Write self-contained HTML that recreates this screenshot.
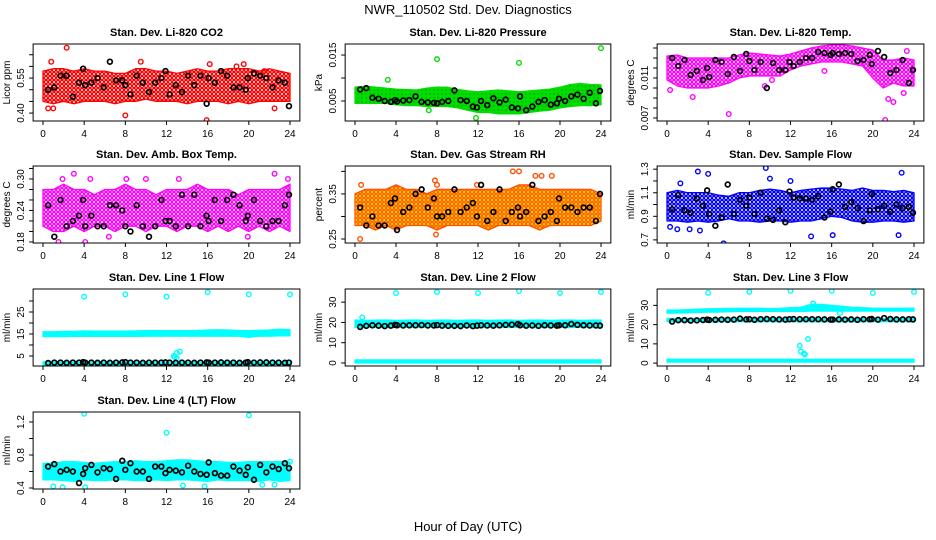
<!DOCTYPE html>
<html><head><meta charset="utf-8"><title>NWR_110502 Std. Dev. Diagnostics</title>
<style>
html,body{margin:0;padding:0;background:#fff;}
svg{display:block;font-family:"Liberation Sans",Arial,sans-serif;}
</style></head>
<body>
<svg id="chart" width="936" height="540" viewBox="0 0 936 540">
<defs>
<pattern id="pat-red" width="4" height="4" patternUnits="userSpaceOnUse"><circle cx="2" cy="2" r="1.6" fill="none" stroke="#ff0000" stroke-width="1.3"/></pattern>
<pattern id="pat-green" width="4" height="4" patternUnits="userSpaceOnUse"><rect width="4" height="4" fill="#00dd00"/><circle cx="2" cy="2" r="0.7" fill="#009900"/></pattern>
<pattern id="pat-magenta" width="4" height="4" patternUnits="userSpaceOnUse"><circle cx="2" cy="2" r="1.6" fill="none" stroke="#ff00ff" stroke-width="1.3"/></pattern>
<pattern id="pat-blue" width="4" height="4" patternUnits="userSpaceOnUse"><circle cx="2" cy="2" r="1.6" fill="none" stroke="#0000ff" stroke-width="1.3"/></pattern>
<pattern id="pat-cyan" width="4" height="4" patternUnits="userSpaceOnUse"><rect width="4" height="4" fill="#00ffff"/></pattern>
<pattern id="pat-orange" width="4" height="4" patternUnits="userSpaceOnUse"><rect width="4" height="4" fill="#ffe000"/><circle cx="2" cy="2" r="1.3" fill="none" stroke="#ff2000" stroke-width="0.9"/></pattern>
</defs>
<text x="468" y="14" text-anchor="middle" font-size="13">NWR_110502 Std. Dev. Diagnostics</text>
<text x="468" y="531" text-anchor="middle" font-size="13">Hour of Day (UTC)</text>
</svg>
<script>
const blackHours = [0.5,1.1,1.7,2.3,2.9,3.5,3.9,4.1,4.7,5.3,5.9,6.5,7.1,7.7,8.0,8.5,9.1,9.7,10.3,10.9,11.5,11.9,12.3,12.9,13.5,14.1,14.7,15.3,15.9,16.1,16.7,17.3,17.9,18.5,19.1,19.7,19.9,20.5,21.1,21.7,22.3,22.9,23.5,23.9];
const bandHours = [0,1,2,3,4,5,6,7,8,9,10,11,12,13,14,15,16,17,18,19,20,21,22,23,24];
const xTicks = [0,4,8,12,16,20,24];

const co2Lo = [0.45,0.44,0.45,0.44,0.45,0.45,0.45,0.44,0.45,0.45,0.46,0.45,0.45,0.45,0.44,0.45,0.45,0.45,0.44,0.45,0.44,0.45,0.45,0.45,0.45];
const co2Hi = [0.58,0.59,0.59,0.58,0.59,0.58,0.58,0.57,0.57,0.59,0.59,0.58,0.58,0.57,0.58,0.59,0.58,0.58,0.59,0.59,0.59,0.58,0.59,0.58,0.57];
const co2OutX = [0.8,2.3,9.5,15.9,8.0,18.8,21.5,22.5,16.2,19.5,0.5,1.0];
const co2OutY = [0.62,0.68,0.62,0.37,0.39,0.60,0.58,0.42,0.61,0.61,0.42,0.42];
const co2Black = [0.50,0.51,0.56,0.56,0.47,0.53,0.59,0.52,0.53,0.55,0.51,0.62,0.54,0.54,0.52,0.48,0.56,0.53,0.49,0.53,0.55,0.58,0.48,0.52,0.49,0.56,0.52,0.56,0.44,0.55,0.53,0.58,0.56,0.51,0.51,0.50,0.55,0.57,0.56,0.55,0.51,0.54,0.53,0.43];
const co2Ticks = [0.40,0.45,0.50,0.55,0.60,0.65];
const co2Labels = ["0.40","","","0.55","",""];

const presLo = [0.0045,0.0045,0.0045,0.0045,0.0042,0.0040,0.0040,0.0038,0.0038,0.0038,0.0035,0.0030,0.0025,0.0025,0.0022,0.0022,0.0022,0.0025,0.0028,0.0030,0.0035,0.0038,0.0040,0.0040,0.0042];
const presHi = [0.0080,0.0082,0.0080,0.0078,0.0076,0.0075,0.0074,0.0078,0.0080,0.0080,0.0075,0.0072,0.0070,0.0072,0.0074,0.0072,0.0070,0.0072,0.0074,0.0076,0.0080,0.0086,0.0088,0.0086,0.0085];
const presOutX = [8,16,24,3.2,7.2,11.8];
const presOutY = [0.0141,0.0133,0.0165,0.0096,0.0030,0.0013];
const presBlack = [0.0075,0.0078,0.0057,0.0055,0.0050,0.0048,0.0052,0.0049,0.0051,0.0052,0.0060,0.0048,0.0047,0.0046,0.0045,0.0048,0.0050,0.0073,0.0052,0.0050,0.0038,0.0036,0.0050,0.0041,0.0056,0.0047,0.0053,0.0036,0.0034,0.0060,0.0030,0.0038,0.0048,0.0052,0.0042,0.0045,0.0055,0.0050,0.0060,0.0064,0.0055,0.0068,0.0045,0.0072];
const presTicks = [0.005,0.010,0.015];
const presLabels = ["0.005","","0.015"];

const tempLo = [0.0108,0.0102,0.0100,0.0100,0.0100,0.0102,0.0105,0.0110,0.0112,0.0112,0.0112,0.0112,0.0118,0.0122,0.0124,0.0126,0.0126,0.0126,0.0124,0.0122,0.0110,0.0100,0.0105,0.0102,0.0102];
const tempHi = [0.0132,0.0133,0.0130,0.0130,0.0130,0.0130,0.0130,0.0133,0.0135,0.0134,0.0133,0.0132,0.0134,0.0137,0.0140,0.0142,0.0143,0.0143,0.0142,0.0140,0.0138,0.0128,0.0128,0.0130,0.0128];
const tempOutX = [0.3,2.5,6.0,9.5,21.2,21.0,21.5,22.0,23.0,23.3,15.3,10.2];
const tempOutY = [0.0098,0.0091,0.0074,0.0102,0.0068,0.0063,0.0089,0.0086,0.0095,0.0137,0.0117,0.0108];
const tempBlack = [0.0130,0.0122,0.0128,0.0113,0.0117,0.0108,0.0120,0.0111,0.0128,0.0126,0.0114,0.0131,0.0117,0.0134,0.0127,0.0118,0.0126,0.0100,0.0125,0.0118,0.0118,0.0126,0.0122,0.0126,0.0130,0.0130,0.0136,0.0135,0.0133,0.0135,0.0134,0.0135,0.0134,0.0127,0.0128,0.0133,0.0124,0.0137,0.0131,0.0115,0.0118,0.0128,0.0105,0.0118];
const tempTicks = [0.007,0.008,0.009,0.010,0.011,0.012,0.013,0.014];
const tempLabels = ["0.007","","","","0.011","","",""];

const ambLo = [0.21,0.20,0.20,0.21,0.20,0.21,0.21,0.20,0.21,0.21,0.20,0.21,0.21,0.20,0.21,0.21,0.20,0.21,0.20,0.21,0.20,0.21,0.20,0.21,0.20];
const ambHi = [0.28,0.28,0.29,0.28,0.28,0.27,0.28,0.28,0.29,0.28,0.28,0.27,0.28,0.28,0.28,0.29,0.28,0.28,0.28,0.27,0.28,0.28,0.28,0.28,0.29];
const ambOutX = [1.9,3.0,4.6,8.1,6.4,1.5,4.1,19.9,21.3,22.5,23.8,13.2,10.0];
const ambOutY = [0.30,0.31,0.30,0.30,0.19,0.18,0.18,0.19,0.17,0.31,0.30,0.30,0.30];
const ambBlack = [0.25,0.19,0.26,0.21,0.22,0.23,0.26,0.21,0.23,0.21,0.21,0.25,0.25,0.24,0.21,0.20,0.25,0.21,0.19,0.21,0.26,0.22,0.22,0.21,0.27,0.21,0.27,0.21,0.23,0.22,0.26,0.22,0.26,0.27,0.25,0.22,0.23,0.26,0.22,0.21,0.22,0.22,0.25,0.27];
const ambTicks = [0.18,0.20,0.22,0.24,0.26,0.28,0.30,0.32];
const ambLabels = ["0.18","","","0.24","","","0.30",""];

const rhLo = [0.28,0.28,0.27,0.28,0.27,0.28,0.28,0.28,0.27,0.28,0.28,0.28,0.28,0.27,0.28,0.28,0.28,0.28,0.27,0.28,0.28,0.28,0.28,0.28,0.29];
const rhHi = [0.35,0.36,0.36,0.36,0.37,0.36,0.36,0.35,0.36,0.36,0.36,0.36,0.36,0.36,0.36,0.36,0.37,0.37,0.36,0.36,0.36,0.36,0.36,0.36,0.35];
const rhOutX = [0.5,8.0,7.8,11.9,17.6,18.2,19.2,15.4,16.0,0.6,7.9];
const rhOutY = [0.25,0.37,0.38,0.37,0.39,0.39,0.39,0.40,0.40,0.37,0.26];
const rhBlack = [0.32,0.28,0.30,0.28,0.28,0.33,0.34,0.27,0.31,0.32,0.35,0.36,0.32,0.34,0.30,0.30,0.31,0.36,0.31,0.32,0.33,0.30,0.37,0.29,0.31,0.36,0.29,0.31,0.32,0.30,0.31,0.37,0.29,0.30,0.31,0.29,0.34,0.32,0.32,0.31,0.32,0.32,0.29,0.35];
const rhTicks = [0.25,0.30,0.35,0.40];
const rhLabels = ["0.25","","0.35",""];

const sfLo = [0.86,0.86,0.85,0.86,0.85,0.86,0.88,0.86,0.86,0.85,0.86,0.86,0.85,0.86,0.86,0.88,0.90,0.89,0.86,0.85,0.85,0.86,0.86,0.85,0.86];
const sfHi = [1.10,1.12,1.10,1.10,1.10,1.08,1.07,1.10,1.10,1.12,1.13,1.12,1.10,1.12,1.13,1.14,1.14,1.13,1.12,1.14,1.12,1.12,1.11,1.12,1.10];
const sfOutX = [0.3,1.3,3.0,3.2,4.0,5.5,9.6,12.0,14.0,16.1,22.8,22.5,10.0,1.0,2.2];
const sfOutY = [0.81,1.18,1.28,0.78,1.26,0.67,1.31,1.20,0.73,0.74,1.27,0.74,1.22,0.79,0.79];
const sfBlack = [0.96,1.08,0.95,0.93,1.05,0.99,1.12,0.92,0.82,0.89,1.17,0.92,1.04,0.99,1.06,0.92,1.10,0.88,0.87,0.95,0.85,1.11,1.06,1.05,1.05,1.04,1.07,0.89,0.94,1.13,1.17,0.98,1.02,0.97,0.86,0.95,1.09,0.96,0.99,0.94,1.00,0.97,0.98,0.93];
const sfTicks = [0.7,0.8,0.9,1.0,1.1,1.2,1.3];
const sfLabels = ["0.7","","0.9","","1.1","","1.3"];

const l1UpLo = [13.8,13.8,13.8,13.9,13.9,13.9,13.9,13.9,13.9,13.9,14,14,14,14,14,14,14,14,14,14,13.5,14,14,14.2,14.2];
const l1UpHi = [16,16,16.2,16.2,16.4,16.3,16.3,16.3,16.3,16.4,16.5,16.5,16.5,16.5,16.5,16.6,16.8,16.9,16.8,16.6,16.5,16.7,16.8,17.2,17.0];
const l1LowLo = [1.0,1.0,1.0,1.0,1.0,1.0,1.0,1.0,1.0,1.0,1.0,1.0,1.0,1.0,1.0,1.0,1.0,1.0,1.0,1.0,1.0,1.0,1.0,1.0,1.0];
const l1LowHi = [2.3,2.3,2.3,2.3,2.3,2.3,2.3,2.3,2.3,2.3,2.3,2.3,2.3,2.3,2.3,2.3,2.3,2.3,2.3,2.3,2.3,2.3,2.3,2.3,2.3];
const l1OutX = [4,8,12,16,20,24,12.7,13.0,13.3,13.0,12.8];
const l1OutY = [32,33,32,34,33,33,5,6.5,7,4,4.5];
const l1Black = [1.8,2.0,2.0,1.9,2.0,2.0,2.2,2.0,2.0,1.9,2.0,1.9,2.0,2.1,2.2,2.0,2.0,1.9,2.0,2.0,2.0,2.1,2.0,1.9,2.0,2.0,1.9,2.0,2.1,2.0,2.0,2.1,2.0,2.0,1.9,2.0,2.2,2.0,2.1,2.1,2.0,2.0,1.9,2.0];
const l1Ticks = [5,10,15,20,25,30];
const l1Labels = ["5","","15","","25",""];

const l2UpLo = [17.5,17.6,17.6,17.5,17.6,17.6,17.5,17.6,17.6,17.5,17.6,17.6,17.5,17.6,17.6,17.5,17.6,17.6,17.5,17.6,17.6,17.5,17.6,17.6,17.5];
const l2UpHi = [21.2,21.0,21.1,21.2,21.0,21.1,21.2,21.0,21.1,21.2,21.0,21.1,21.2,21.0,21.1,21.2,21.0,21.1,21.2,21.0,21.1,21.2,21.0,21.1,21.2];
const l2LowLo = [0,0,0,0,0,0,0,0,0,0,0,0,0,0,0,0,0,0,0,0,0,0,0,0,0];
const l2LowHi = [1.5,1.5,1.5,1.5,1.5,1.5,1.5,1.5,1.5,1.5,1.5,1.5,1.5,1.5,1.5,1.5,1.5,1.5,1.5,1.5,1.5,1.5,1.5,1.5,1.5];
const l2OutX = [4,8,12,16,20,24,0.7];
const l2OutY = [34.5,35,34.5,35.5,34.5,35,22.5];
const l2Black = [17.8,18.3,18.6,18.4,18.2,18.4,18.8,18.6,18.5,18.6,18.6,18.7,18.5,18.5,18.7,18.4,18.3,18.3,18.2,18.5,18.2,18.4,18.6,18.5,18.4,18.6,18.8,18.9,19.2,18.6,18.4,18.5,18.3,18.6,18.5,18.4,18.6,18.6,19.2,18.8,18.6,18.5,18.5,18.4];
const l2Ticks = [0,10,20,30];
const l2Labels = ["0","10","20","30"];

const l3UpLo = [26,26,26.2,26.3,26.5,26.5,26.7,26.8,26.8,26.9,26.9,26.8,26.8,26.8,27.0,27,27,27,27,27,27,27,27,27,27];
const l3UpHi = [27.5,27.6,27.8,28,28.2,28.3,28.4,28.5,28.5,28.5,28.3,28.5,28.8,29,30.5,30.5,30,29.5,29,28.8,28.6,28.5,28.5,28.5,28.6];
const l3MidLo = [21.5,21.5,21.5,21.5,21.5,21.5,21.5,21.5,21.5,21.5,21.5,21.5,21.5,21.5,21.5,21.5,21.5,21.5,21.5,21.5,21.5,21.5,21.5,21.5,21.5];
const l3MidHi = [23.2,23.2,23.2,23.2,23.2,23.2,23.2,23.2,23.2,23.2,23.2,23.2,23.2,23.2,23.2,23.2,23.2,23.2,23.2,23.2,23.2,23.2,23.2,23.2,23.2];
const l3LowLo = [0.5,0.5,0.5,0.5,0.5,0.5,0.5,0.5,0.5,0.5,0.5,0.5,0.5,0.5,0.5,0.5,0.5,0.5,0.5,0.5,0.5,0.5,0.5,0.5,0.5];
const l3LowHi = [2,2,2,2,2,2,2,2,2,2,2,2,2,2,2,2,2,2,2,2,2,2,2,2,2];
const l3OutX = [4,8,12,16,20,24,12.9,13.0,13.3,13.4,13.7,14.2,16.8];
const l3OutY = [36.5,37,37.5,37.5,36.5,37,9,6,5,4.5,12.5,31,26];
const l3Black = [21.6,22.3,22.3,22.1,22.2,22.4,22.6,22.4,22.5,22.6,22.5,22.6,23.1,22.7,22.8,22.5,22.8,22.9,22.8,22.7,22.6,22.8,22.9,22.8,22.8,22.8,22.8,22.7,22.6,22.6,22.7,22.6,22.7,22.5,22.8,22.8,22.9,22.6,23.4,22.9,22.7,22.7,22.8,22.7];

const l4Lo = [0.50,0.50,0.49,0.48,0.50,0.49,0.49,0.50,0.50,0.49,0.49,0.50,0.49,0.50,0.50,0.49,0.48,0.50,0.49,0.49,0.49,0.48,0.50,0.48,0.49];
const l4Hi = [0.70,0.70,0.72,0.72,0.71,0.70,0.71,0.72,0.72,0.73,0.72,0.72,0.73,0.74,0.74,0.73,0.72,0.72,0.71,0.71,0.72,0.72,0.72,0.72,0.71];
const l4OutX = [4,12,20,1.0,1.9,4.1,13.6,15.7,21.3,24,22.5];
const l4OutY = [1.3,1.07,1.28,0.42,0.41,0.41,0.43,0.42,0.44,0.72,0.44];
const l4Black = [0.66,0.69,0.60,0.62,0.60,0.46,0.57,0.64,0.68,0.59,0.64,0.63,0.51,0.73,0.62,0.70,0.60,0.60,0.51,0.66,0.66,0.58,0.62,0.61,0.59,0.67,0.60,0.57,0.56,0.71,0.58,0.55,0.55,0.66,0.61,0.56,0.65,0.50,0.68,0.59,0.66,0.63,0.70,0.64];
const l4Ticks = [0.4,0.6,0.8,1.0,1.2];
const l4Labels = ["0.4","","0.8","","1.2"];

const NS = "http://www.w3.org/2000/svg";
const svg = document.getElementById("chart");
const COLS = [{a:43,b:290},{a:355,b:601},{a:667,b:914}];
const ROWS = [44,166,289,412];
const BH = 77;

function mk(tag, attrs, parent){
  const e = document.createElementNS(NS, tag);
  for (const k in attrs) e.setAttribute(k, attrs[k]);
  (parent||svg).appendChild(e);
  return e;
}

const panels = [
 {key:"co2",title:"Stan. Dev. Li-820 CO2",ylab:"Licor ppm",col:0,row:0,dom:[0.366,0.696],ticks:co2Ticks,labels:co2Labels,color:"#ff0000",pat:"pat-red",bands:[[co2Lo,co2Hi]],ox:co2OutX,oy:co2OutY,black:co2Black},
 {key:"pressure",title:"Stan. Dev. Li-820 Pressure",ylab:"kPa",col:1,row:0,dom:[0.00065,0.0174],ticks:presTicks,labels:presLabels,color:"#00dd00",pat:"pat-green",bands:[[presLo,presHi]],ox:presOutX,oy:presOutY,black:presBlack},
 {key:"li820-temp",title:"Stan. Dev. Li-820 Temp.",ylab:"degrees C",col:2,row:0,dom:[0.0067,0.0144],ticks:tempTicks,labels:tempLabels,color:"#ff00ff",pat:"pat-magenta",bands:[[tempLo,tempHi]],ox:tempOutX,oy:tempOutY,black:tempBlack},
 {key:"amb-box-temp",title:"Stan. Dev. Amb. Box Temp.",ylab:"degrees C",col:0,row:1,dom:[0.178,0.3247],ticks:ambTicks,labels:ambLabels,color:"#ff00ff",pat:"pat-magenta",bands:[[ambLo,ambHi]],ox:ambOutX,oy:ambOutY,black:ambBlack},
 {key:"gas-stream-rh",title:"Stan. Dev. Gas Stream RH",ylab:"percent",col:1,row:1,dom:[0.2411,0.412],ticks:rhTicks,labels:rhLabels,color:"#ff5000",pat:"pat-orange",bands:[[rhLo,rhHi]],ox:rhOutX,oy:rhOutY,black:rhBlack},
 {key:"sample-flow",title:"Stan. Dev. Sample Flow",ylab:"ml/min",col:2,row:1,dom:[0.6735,1.327],ticks:sfTicks,labels:sfLabels,color:"#0000ff",pat:"pat-blue",bands:[[sfLo,sfHi]],ox:sfOutX,oy:sfOutY,black:sfBlack},
 {key:"line1-flow",title:"Stan. Dev. Line 1 Flow",ylab:"ml/min",col:0,row:2,dom:[0.45,35.45],ticks:l1Ticks,labels:l1Labels,color:"#00ffff",pat:"pat-cyan",bands:[[l1UpLo,l1UpHi],[l1LowLo,l1LowHi]],ox:l1OutX,oy:l1OutY,black:l1Black},
 {key:"line2-flow",title:"Stan. Dev. Line 2 Flow",ylab:"ml/min",col:1,row:2,dom:[-1.5,36.5],ticks:l2Ticks,labels:l2Labels,color:"#00ffff",pat:"pat-cyan",bands:[[l2UpLo,l2UpHi],[l2LowLo,l2LowHi]],ox:l2OutX,oy:l2OutY,black:l2Black},
 {key:"line3-flow",title:"Stan. Dev. Line 3 Flow",ylab:"ml/min",col:2,row:2,dom:[-1.5,38.5],ticks:l2Ticks,labels:l2Labels,color:"#00ffff",pat:"pat-cyan",bands:[[l3UpLo,l3UpHi],[l3MidLo,l3MidHi],[l3LowLo,l3LowHi]],ox:l3OutX,oy:l3OutY,black:l3Black},
 {key:"line4-flow",title:"Stan. Dev. Line 4 (LT) Flow",ylab:"ml/min",col:0,row:3,dom:[0.388,1.321],ticks:l4Ticks,labels:l4Labels,color:"#00ffff",pat:"pat-cyan",bands:[[l4Lo,l4Hi]],ox:l4OutX,oy:l4OutY,black:l4Black}
];

panels.forEach(p => {
  const c = COLS[p.col];
  const top = ROWS[p.row], bot = top + BH;
  const xs = h => c.a + h * (c.b - c.a) / 24;
  const ys = v => bot - (v - p.dom[0]) / (p.dom[1] - p.dom[0]) * BH;
  const left = xs(-0.96), right = xs(24.96);
  const g = mk("g", {});
  
  
  const clipId = "clip-" + p.key;
  const cp = mk("clipPath", {id: clipId}, g);
  mk("rect", {x:left, y:top, width:right-left, height:BH}, cp);

  const t = mk("text", {x:(left+right)/2, y:top-8, "text-anchor":"middle", "font-size":"11", "font-weight":"bold"}, g);
  t.textContent = p.title;
  
  

  const data = mk("g", {"clip-path":"url(#"+clipId+")"}, g);
  p.bands.forEach((b, bi) => {
    let d = "";
    bandHours.forEach((h,i)=>{ d += (i?"L":"M") + xs(h).toFixed(1) + "," + ys(b[1][i]).toFixed(1); });
    for (let i = bandHours.length-1; i >= 0; i--) d += "L" + xs(bandHours[i]).toFixed(1) + "," + ys(b[0][i]).toFixed(1);
    const path = mk("path", {d: d + "Z", fill: "url(#"+p.pat+")", stroke: p.color, "stroke-width": "1.3", "stroke-linejoin":"round"}, data);
    
    
  });
  p.ox.forEach((h,i)=>{
    const m = mk("circle", {cx: xs(h), cy: ys(p.oy[i]), r: 2.3, fill:"none", stroke: p.color, "stroke-width":"1.4"}, data);
    
    
  });
  p.black.forEach((v,i)=>{
    const m = mk("circle", {cx: xs(blackHours[i]), cy: ys(v), r: 2.4, fill:"none", stroke:"#000", "stroke-width":"1.7"}, data);
    
    
  });

  const box = mk("rect", {x:left, y:top, width:right-left, height:BH, fill:"none", stroke:"#000", "stroke-width":"1"}, g);
  
  

  const xa = mk("g", {}, g);
  
  
  xTicks.forEach(h=>{
    mk("line", {x1:xs(h), x2:xs(h), y1:bot, y2:bot+4, stroke:"#000"}, xa);
    const tl = mk("text", {x:xs(h), y:bot+16, "text-anchor":"middle", "font-size":"10"}, xa);
    tl.textContent = h;
  });
  const ya = mk("g", {}, g);
  
  
  p.ticks.forEach((v,i)=>{
    const y = ys(v);
    mk("line", {x1:left-4, x2:left, y1:y, y2:y, stroke:"#000"}, ya);
    if (p.labels[i]) {
      const tl = mk("text", {x:left-9, y:y, "text-anchor":"middle", "font-size":"10", transform:"rotate(-90 "+(left-9)+" "+y+")"}, ya);
      tl.textContent = p.labels[i];
    }
  });
  const yl = mk("text", {x:left-23, y:(top+bot)/2, "text-anchor":"middle", "font-size":"10", transform:"rotate(-90 "+(left-23)+" "+((top+bot)/2)+")"}, g);
  yl.textContent = p.ylab;
  
  
});
</script>
</body></html>
